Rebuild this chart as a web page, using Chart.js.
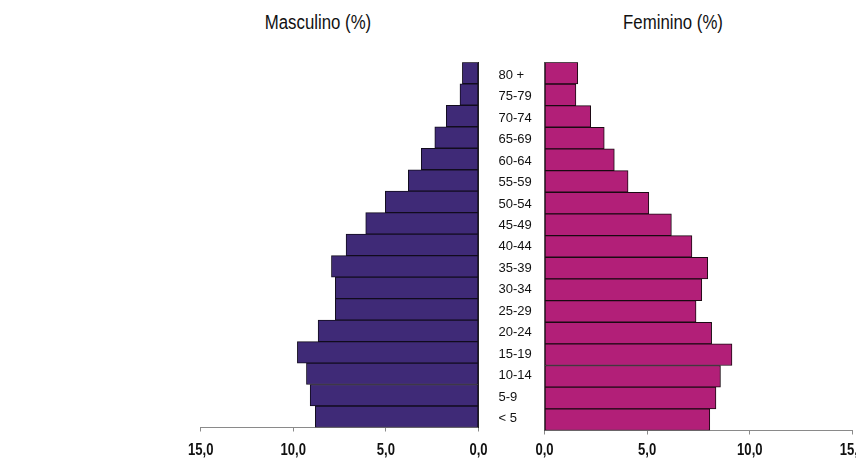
<!DOCTYPE html>
<html>
<head>
<meta charset="utf-8">
<script src="https://cdn.jsdelivr.net/npm/chart.js@4/dist/chart.umd.min.js"></script>
<style>
  html, body { margin:0; padding:0; width:856px; height:465px; overflow:hidden; background:#fff; }
  canvas { position:absolute; top:0; }
  .ttl { position:absolute; top:11px; font-family:"Liberation Sans",Arial,sans-serif; font-size:20px; line-height:23px; color:#111; white-space:nowrap; transform:translateX(-50%) scaleX(0.84); }
</style>
</head>
<body>
<div class="ttl" style="left:318px">Masculino (%)</div>
<div class="ttl" style="left:673px">Feminino (%)</div>
<canvas id="cm" width="544" height="465" style="left:0"></canvas>
<canvas id="cf" width="400" height="465" style="left:500px"></canvas>
<script>
const categories = ['80 +','75-79','70-74','65-69','60-64','55-59','50-54','45-49','40-44','35-39','30-34','25-29','20-24','15-19','10-14','5-9','< 5'];
const masculino = [0.87, 1.00, 1.74, 2.36, 3.09, 3.79, 5.03, 6.09, 7.15, 7.94, 7.73, 7.73, 8.66, 9.78, 9.29, 9.09, 8.81];
const feminino  = [1.62, 1.53, 2.25, 2.91, 3.40, 4.07, 5.08, 6.18, 7.18, 7.95, 7.66, 7.38, 8.14, 9.13, 8.57, 8.35, 8.05];
const tickValues = [0, 5, 10, 15];
const tickLabels = ['0,0', '5,0', '10,0', '15,0'];

function fmt(v){ const i = tickValues.indexOf(v); return i >= 0 ? tickLabels[i] : ''; }

// condensed bold tick labels, positioned by the chart's own x scale
const condensedTicks = {
  id:'condensedTicks',
  afterDraw(chart){
    const s = chart.scales.x, ctx = chart.ctx;
    ctx.save();
    ctx.font = 'bold 17px "Liberation Sans", Arial, sans-serif';
    ctx.fillStyle = '#111';
    ctx.textAlign = 'center';
    ctx.textBaseline = 'alphabetic';
    tickValues.forEach(v => {
      ctx.save();
      ctx.translate(s.getPixelForValue(v), 455);
      ctx.scale(0.77, 1);
      ctx.fillText(fmt(v), 0, 0);
      ctx.restore();
    });
    ctx.restore();
  }
};

function xScale(reverse, axisH){
  return {
    type:'linear', min:0, max:15, reverse:reverse,
    afterBuildTicks: s => { s.ticks = tickValues.map(v => ({value:v})); },
    afterFit: s => { s.height = axisH; },
    grid:{ drawOnChartArea:false, drawTicks:true, tickLength:4, color:'#8a8a8a', lineWidth:1 },
    border:{ display:true, color:'#8a8a8a', width:1 },
    ticks:{ callback: v => fmt(v), color:'rgba(0,0,0,0)', padding:6, maxRotation:0, autoSkip:false,
            font:{ size:12, weight:'bold' } }
  };
}

Chart.defaults.animation = false;

new Chart(document.getElementById('cm'), {
  type:'bar',
  data:{ labels:categories, datasets:[{ data:masculino, backgroundColor:'#3f2a77', borderColor:'#120c1e', borderWidth:1, borderSkipped:false, categoryPercentage:1, barPercentage:1 }] },
  options:{
    responsive:false, indexAxis:'y',
    layout:{ padding:{ left:200.7, right:0, top:62.3, bottom:0 } },
    plugins:{ legend:{display:false}, tooltip:{enabled:false} },
    scales:{
      x: xScale(true, 37.5),
      y:{ position:'right', afterFit: s => { s.width = 544 - 478.5; },
          grid:{ display:false, drawTicks:false },
          border:{ display:true, color:'#222', width:1 },
          ticks:{ color:'#111', padding:20, crossAlign:'near', labelOffset:2, font:{ family:'"Liberation Sans",Arial,sans-serif', size:13 } } }
    }
  },
  plugins:[condensedTicks]
});

new Chart(document.getElementById('cf'), {
  type:'bar',
  data:{ labels:categories, datasets:[{ data:feminino, backgroundColor:'#b21f78', borderColor:'#1a0a12', borderWidth:1, borderSkipped:false, categoryPercentage:1, barPercentage:1 }] },
  options:{
    responsive:false, indexAxis:'y',
    layout:{ padding:{ left:44.5, right:47.5, top:62.3, bottom:0 } },
    plugins:{ legend:{display:false}, tooltip:{enabled:false} },
    scales:{
      x: xScale(false, 34.5),
      y:{ position:'left', afterFit: s => { s.width = 0; },
          grid:{ display:false, drawTicks:false },
          border:{ display:true, color:'#555', width:1 },
          ticks:{ display:false } }
    }
  },
  plugins:[condensedTicks]
});
</script>
</body>
</html>
